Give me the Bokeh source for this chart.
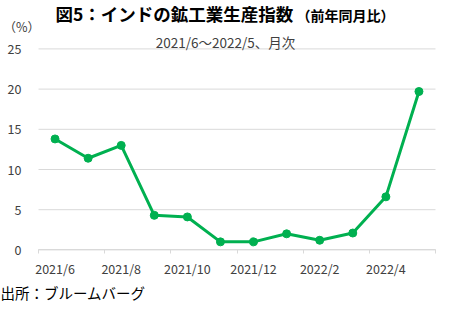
from bokeh.plotting import figure
from bokeh.models import FixedTicker, Label, Range1d
from bokeh.embed import file_html
from bokeh.resources import INLINE

months = ["2021/6", "2021/7", "2021/8", "2021/9", "2021/10", "2021/11",
          "2021/12", "2022/1", "2022/2", "2022/3", "2022/4", "2022/5"]
values = [13.8, 11.4, 13.0, 4.3, 4.1, 1.0, 1.0, 2.0, 1.2, 2.1, 6.6, 19.7]
y_ticks = [0, 5, 10, 15, 20, 25]
title_main = "図5：インドの鉱工業生産指数"
title_sub = "（前年同月比）"
subtitle = "2021/6～2022/5、月次"
unit_label = "（%）"
source_label = "出所：ブルームバーグ"

FONT = "Noto Sans CJK JP"
GREEN = "#00B050"
GRID = "#d9d9d9"
TXT = "#404040"

# canvas and plot-area geometry (pixels)
W, H = 442, 312
PL, PR = 38.0, 435.0       # plot area left / right
PT, PB = 48.4, 249.4       # y = top tick / y = 0

n = len(months)
xmin, xmax = -0.5, n - 0.5
ymin, ymax = y_ticks[0], y_ticks[-1]
ux = (PR - PL) / (xmax - xmin)
uy = (PB - PT) / (ymax - ymin)
x_range = Range1d(xmin - PL / ux, xmax + (W - PR) / ux)
y_range = Range1d(ymin - (H - PB) / uy, ymax + PT / uy)

p = figure(width=W, height=H, output_backend="svg", toolbar_location=None,
           x_range=x_range, y_range=y_range,
           min_border_left=0, min_border_right=0, min_border_top=0,
           min_border_bottom=0)
p.outline_line_color = None
p.background_fill_color = "white"
p.border_fill_color = "white"

# horizontal grid lines, limited to the plot area
p.segment(x0=[xmin] * len(y_ticks), x1=[xmax] * len(y_ticks),
          y0=y_ticks, y1=y_ticks, line_color=GRID, line_width=1,
          level="underlay")
p.xgrid.visible = False
p.ygrid.visible = False

x = list(range(n))
p.line(x, values, line_color=GREEN, line_width=3)
p.scatter(x, values, size=8, fill_color=GREEN, line_color=GREEN)

# x axis
major = [i for i in x if i % 2 == 0]
p.xaxis.fixed_location = ymin
p.xaxis.bounds = (xmin, xmax)
p.xaxis.ticker = FixedTicker(ticks=major,
                             minor_ticks=[i - 0.5 for i in range(0, n + 1, 2)])
p.xaxis.major_label_overrides = {i: months[i] for i in major}
p.xaxis.major_tick_out = 0
p.xaxis.major_tick_in = 0
p.xaxis.minor_tick_out = 4
p.xaxis.minor_tick_in = 0
p.xaxis.minor_tick_line_color = GRID
p.xaxis.axis_line_color = GRID
p.xaxis.axis_line_width = 1
p.xaxis.major_label_text_font = FONT
p.xaxis.major_label_text_font_size = "12.5px"
p.xaxis.major_label_text_color = TXT
p.xaxis.major_label_standoff = 5

# y axis
p.yaxis.fixed_location = xmin
p.yaxis.ticker = FixedTicker(ticks=y_ticks)
p.yaxis.axis_line_color = None
p.yaxis.major_tick_line_color = None
p.yaxis.minor_tick_line_color = None
p.yaxis.major_label_text_font = FONT
p.yaxis.major_label_text_font_size = "12.5px"
p.yaxis.major_label_text_color = TXT
p.yaxis.major_label_standoff = 11


def add_text(text, X, Y, size, bold=False, align="left", color=TXT):
    p.add_layout(Label(x=X, y=H - Y, x_units="screen", y_units="screen",
                       text=text, text_font=FONT, text_font_size=size,
                       text_font_style="bold" if bold else "normal",
                       text_align=align, text_baseline="middle",
                       text_color=color))


add_text(title_main, 55, 13, "17.5px", bold=True, color="#000000")
add_text(title_sub, 296, 14.5, "14px", bold=True, color="#000000")
add_text(subtitle, 225, 41, "13.5px", align="center")
add_text(unit_label, 3, 26, "12.5px")
add_text(source_label, 0, 292, "14.5px", color="#000000")

open("out.html", "w").write(file_html(p, INLINE))
